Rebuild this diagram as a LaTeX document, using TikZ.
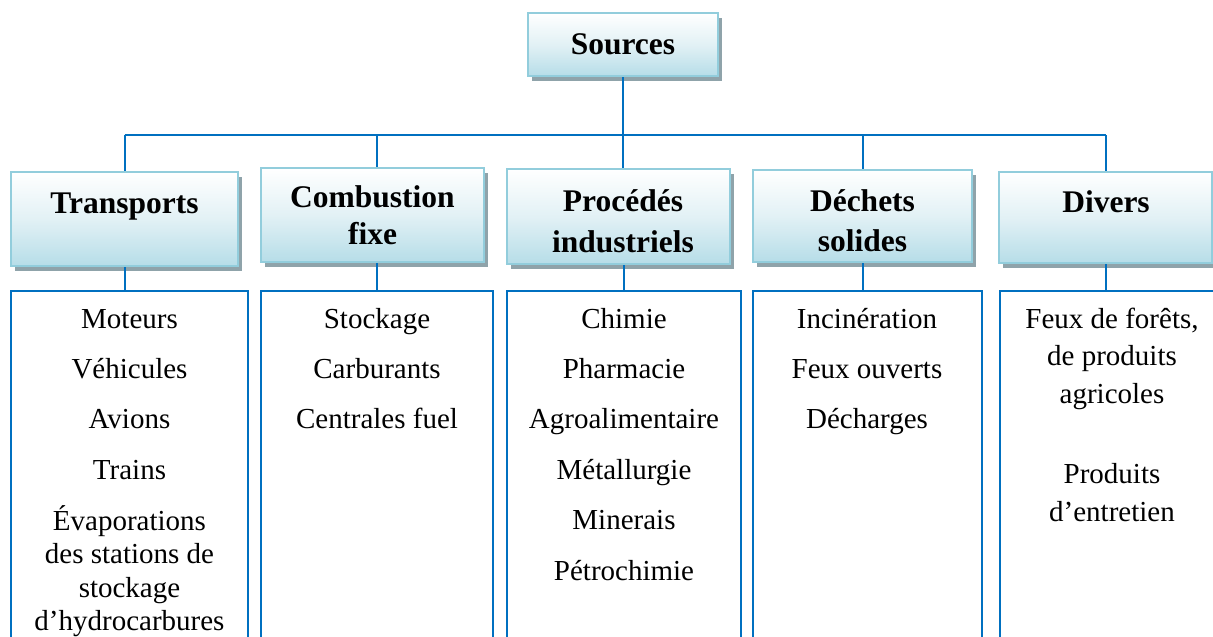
\documentclass[tikz,border=0pt]{standalone}
\usepackage{fontspec}
\setmainfont{Liberation Serif}
\usetikzlibrary{shadows}
\definecolor{wirec}{HTML}{0070C0}
\definecolor{hdrborder}{HTML}{92CDDC}
\definecolor{hdrbottom}{HTML}{B6DDE8}
\definecolor{hdrmid}{HTML}{E2F1F5}
\definecolor{shadowc}{HTML}{8FA3AA}
\newcommand{\bodyfont}{\fontsize{29}{35}\selectfont}
\newcommand{\headfont}{\fontsize{31.5}{38}\selectfont\bfseries}
\begin{document}
\begin{tikzpicture}[x=1pt,y=-1pt,
  hdr/.style={draw=hdrborder, line width=2.5pt, top color=white, bottom color=hdrbottom, middle color=hdrmid, inner sep=0pt,
    general shadow={fill=shadowc, shadow xshift=4pt, shadow yshift=-5pt}},
  lowbox/.style={draw=wirec, line width=2pt, fill=white, inner sep=0pt, minimum height=429pt},
  wire/.style={draw=wirec, line width=2pt},
  item/.style={font=\bodyfont, anchor=base, inner sep=0pt},
  htext/.style={font=\headfont, anchor=base, inner sep=0pt}]
\useasboundingbox (0,0) rectangle (1213,637);
\clip (0,0) rectangle (1213,637);
\coordinate (bar) at (0,135);

% lower boxes
\node[lowbox, minimum width=237pt] (bT) at (129.5,505.5) {};
\node[lowbox, minimum width=232pt] (bC) at (377,505.5) {};
\node[lowbox, minimum width=234pt] (bP) at (624,505.5) {};
\node[lowbox, minimum width=229pt] (bD) at (867.5,505.5) {};
\node[lowbox, minimum width=230pt] (bV) at (1115,505.5) {};

% header boxes
\node[hdr, minimum width=190pt, minimum height=63pt] (src) at (623,44.5) {};
\node[hdr, minimum width=227pt, minimum height=94pt] (hT) at (124.5,219) {};
\node[hdr, minimum width=223pt, minimum height=94pt] (hC) at (372.5,215) {};
\node[hdr, minimum width=223pt, minimum height=95pt] (hP) at (618.5,216.5) {};
\node[hdr, minimum width=219pt, minimum height=92pt] (hD) at (862.5,216) {};
\node[hdr, minimum width=213pt, minimum height=91pt] (hV) at (1105.5,217.5) {};

% connectors
\draw[wire] (src.south) -- (src.south |- bar);
\draw[wire] (hT.north |- bar) -- (hV.north |- bar);
\draw[wire] (hT.north |- bar) -- (hT.north);
\draw[wire] (bC.north |- bar) -- (bC.north |- hC.north);
\draw[wire] (src.south |- bar) -- (src.south |- hP.north);
\draw[wire] (hD.north |- bar) -- (hD.north);
\draw[wire] (hV.north |- bar) -- (hV.north);
\draw[wire] (hT.south) -- (hT.south |- bT.north);
\draw[wire] (bC.north |- hC.south) -- (bC.north);
\draw[wire] (bP.north |- hP.south) -- (bP.north);
\draw[wire] (hD.south) -- (hD.south |- bD.north);
\draw[wire] (hV.south) -- (hV.south |- bV.north);

% header texts
\node[htext] (tS) at (623,54) {Sources};
\node[htext] (tT) at (124.5,213) {Transports};
\node[htext] (tC1) at (372.5,207) {Combustion};
\node[htext] (tC2) at (372.5,244) {fixe};
\node[htext] (tP1) at (623,211) {Procédés};
\node[htext] (tP2) at (623,252) {industriels};
\node[htext] (tD1) at (862.5,211) {Déchets};
\node[htext] (tD2) at (862.5,251) {solides};
\node[htext] (tV) at (1106,212) {Divers};

% Transports items
\node[item] (iT1) at (129.5,328) {Moteurs};
\node[item] (iT2) at (129.5,378) {Véhicules};
\node[item] (iT3) at (129.5,428) {Avions};
\node[item] (iT4) at (129.5,479) {Trains};
\node[item] (iT5) at (129.5,530) {Évaporations};
\node[item] (iT6) at (129.5,563.5) {des stations de};
\node[item] (iT7) at (129.5,597) {stockage};
\node[item] (iT8) at (129.5,630.5) {d’hydrocarbures};

% Combustion items
\node[item] (iC1) at (377,328) {Stockage};
\node[item] (iC2) at (377,378) {Carburants};
\node[item] (iC3) at (377,428) {Centrales fuel};

% Procedes items
\node[item] (iP1) at (624,328) {Chimie};
\node[item] (iP2) at (624,378) {Pharmacie};
\node[item] (iP3) at (624,428.5) {Agroalimentaire};
\node[item] (iP4) at (624,479) {Métallurgie};
\node[item] (iP5) at (624,529.5) {Minerais};
\node[item] (iP6) at (624,580) {Pétrochimie};

% Dechets items
\node[item] (iD1) at (867,328) {Incinération};
\node[item] (iD2) at (867,378) {Feux ouverts};
\node[item] (iD3) at (867,428) {Décharges};

% Divers items
\node[item] (iV1) at (1112,328) {Feux de forêts,};
\node[item] (iV2) at (1112,365.5) {de produits};
\node[item] (iV3) at (1112,403) {agricoles};
\node[item] (iV4) at (1112,483) {Produits};
\node[item] (iV5) at (1112,521) {d’entretien};
\end{tikzpicture}
\end{document}
